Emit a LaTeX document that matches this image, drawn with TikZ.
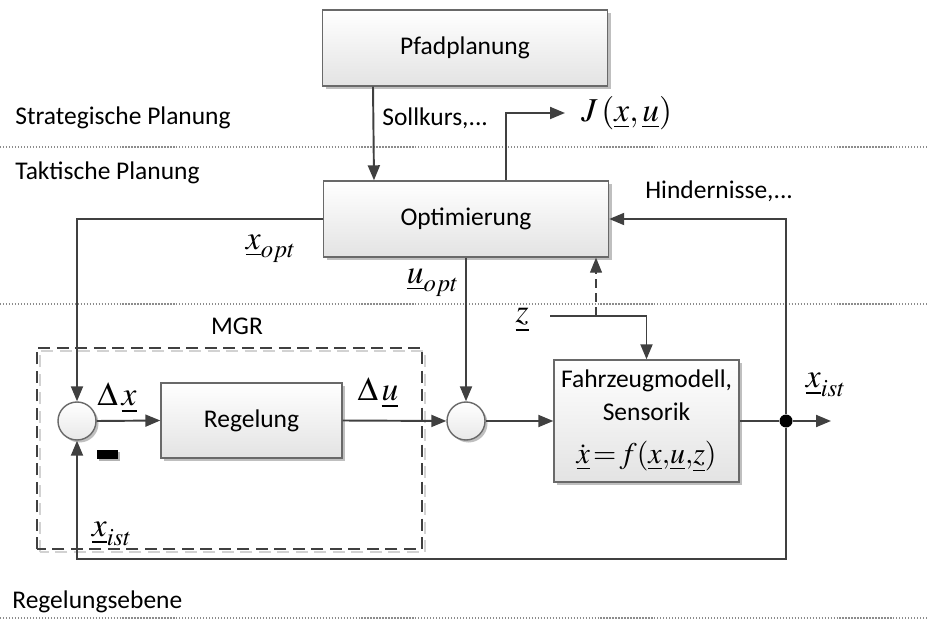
\documentclass[tikz,border=0pt]{standalone}
\usepackage{mathptmx}
\usepackage{fontspec}
\setmainfont{Carlito}
\usepackage{tikz}
\usetikzlibrary{positioning,calc,shadows,arrows.meta}
\definecolor{linegray}{RGB}{64,64,64}
\definecolor{boxgray}{RGB}{105,105,105}
\definecolor{dotgray}{RGB}{140,140,140}
\newcommand{\vek}[1]{\underline{#1}}

\begin{document}
\begin{tikzpicture}[
    x=0.2mm, y=-0.2mm,
    font=\fontsize{14.5}{17.6}\selectfont,
    >={Stealth[length=3mm,width=2.4mm,inset=0pt]},
    block/.style={
      draw=boxgray, line width=0.8pt, align=center, inner sep=0pt,
      top color=white, bottom color=gray!22,
      drop shadow={shadow xshift=0.6mm, shadow yshift=-0.6mm, fill=black, opacity=0.25}
    },
    sum/.style={
      circle, draw=boxgray, line width=0.8pt, minimum size=7.6mm, inner sep=0pt,
      top color=white, bottom color=gray!18,
      drop shadow={shadow xshift=0.5mm, shadow yshift=-0.5mm, fill=black, opacity=0.25}
    },
    lbl/.style={inner sep=0pt},
    mlbl/.style={inner sep=0pt, font=\fontsize{19}{21}\selectfont},
    conn/.style={draw=linegray, line width=1.1pt},
    layer/.style={draw=dotgray, densely dotted, line width=0.7pt},
    mgrline/.style={draw=linegray, line width=1.1pt, dash pattern=on 2.4mm off 1.3mm}
  ]
  \useasboundingbox (0,0) rectangle (927,619);

  % Ebenen
  \draw[layer] (0,147) -- (927,147);
  \draw[layer] (0,304) -- (927,304);
  \draw[layer] (0,618) -- (927,618);
  \node[lbl, anchor=west] (strat) at (15,118) {Strategische Planung};
  \node[lbl, anchor=west] (takt) at (15,173) {Taktische Planung};
  \node[lbl, anchor=west] (regeb) at (12,602) {Regelungsebene};

  % MGR
  \path node[minimum width=77mm, minimum height=40.2mm, inner sep=0pt] (mgr) at (229.5,448.5) {};
  \draw[mgrline, draw=gray!35] ([shift={(0.6mm,-0.6mm)}]mgr.south west) rectangle ([shift={(0.6mm,-0.6mm)}]mgr.north east);
  \draw[mgrline] (mgr.south west) rectangle (mgr.north east);
  \node[lbl] (mgrtxt) at (237,326) {MGR};

  % Bloecke
  \node[block, minimum width=57mm, minimum height=15.2mm] (pfad) at (465,48) {Pfadplanung};
  \node[block, minimum width=57mm, minimum height=15.2mm] (opt) at (466,219) {Optimierung};
  \node[block, minimum width=36.2mm, minimum height=15mm] (regl) at (251.5,420.5) {Regelung};
  \node[block, minimum width=37mm, minimum height=24.4mm] (fzm) at (646.5,421)
    {Fahrzeugmodell,\\[1pt]Sensorik\\[7pt]{\fontsize{17}{19}\selectfont$\dot{\vek{x}}\!=\!f(\vek{x}{,}\vek{u}{,}\vek{z})$}};
  \node[sum] (sum1) at (77,421) {};
  \node[sum] (sum2) at (466,421) {};
  \node[fill=black, minimum width=4.2mm, minimum height=1.8mm, inner sep=0pt,
    drop shadow={shadow xshift=0.4mm, shadow yshift=-0.4mm, fill=black, opacity=0.3}] (minus) at (107.5,454.5) {};
  \node[circle, fill=black, minimum size=2.6mm, inner sep=0pt] (dot) at (786,421) {};
  \coordinate (out) at (831,421);
  \coordinate (zs) at (550,316);
  \coordinate (dz) at (596,316);

  % Beschriftungen
  \node[lbl, anchor=west] (soll) at (382,118) {Sollkurs,...};
  \node[mlbl, anchor=west] (jlbl) at (581,113) {$J\,(\vek{x},\vek{u})$};
  \node[lbl, anchor=west] (hind) at (645,191) {Hindernisse,...};
  \node[mlbl] (xopt) at (271,249) {$\vek{x}_{opt}$};
  \node[mlbl] (uopt) at (433,283) {$\vek{u}_{opt}$};
  \node[mlbl] (zlbl) at (522,320) {$\vek{z}$};
  \node[mlbl] (dx) at (117,398) {$\Delta\,\vek{x}$};
  \node[mlbl] (du) at (378,393) {$\Delta\,\vek{u}$};
  \node[mlbl] (xist1) at (112,534) {$\vek{x}_{ist}$};
  \node[mlbl] (xist2) at (826,385) {$\vek{x}_{ist}$};

  % Verbindungen
  \draw[conn,->] ([xshift=-18.4mm]pfad.south) -- ([xshift=-18.4mm]opt.north);
  \draw[conn,->] ([xshift=8mm]opt.north) |- ([xshift=-3.2mm]jlbl.west);
  \draw[conn,->] (opt.west) -| (sum1.north);
  \draw[conn,->] (opt.south) -- (sum2.north);
  \draw[conn,->] (sum1.east) -- (regl.west);
  \draw[conn,->] (regl.east) -- (sum2.west);
  \draw[conn,->] (sum2.east) -- (fzm.west);
  \draw[conn] (fzm.east) -- (dot);
  \draw[conn,->] (dot) -- (out);
  \draw[conn,->] (dot) |- (opt.east);
  \draw[conn,->] (dot) -- ++(0,138) -| (sum1.south);
  \draw[conn,->] (zs) -| (fzm.north);
  \draw[draw=linegray, line width=0.6pt, dash pattern=on 1.8mm off 1mm, ->] (dz) -- (dz |- opt.south);
\end{tikzpicture}
\end{document}
